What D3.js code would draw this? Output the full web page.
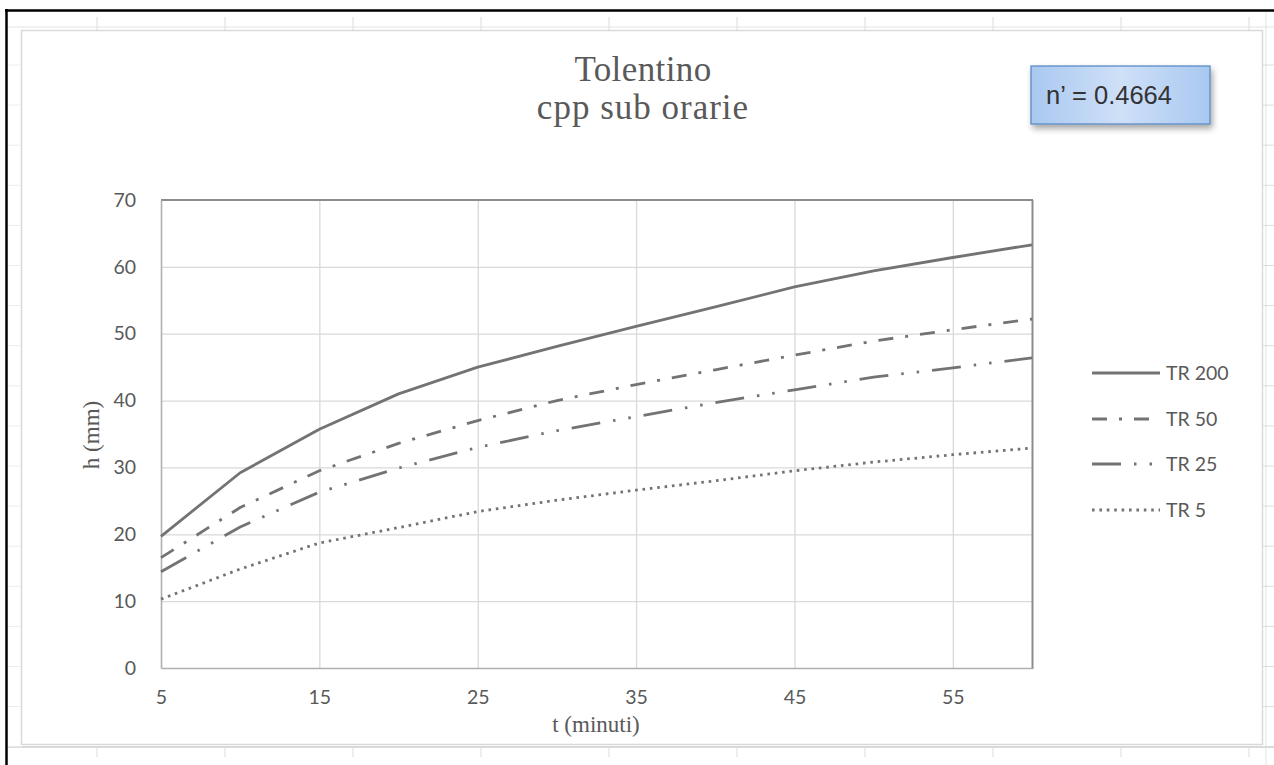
<!DOCTYPE html>
<html>
<head>
<meta charset="utf-8">
<script src="https://cdn.jsdelivr.net/npm/d3@7"></script>
<style>
  html, body { margin: 0; padding: 0; background: #ffffff; }
  svg { display: block; }
</style>
</head>
<body>
<svg id="chart" width="1274" height="765"></svg>
<script>
// Durations (minutes) and rainfall depths h (mm) for each return period
const durations = [5, 10, 15, 20, 25, 30, 35, 40, 45, 50, 55, 60];
const tr200 = [19.7, 29.2, 35.7, 41.0, 45.0, 48.1, 51.1, 54.0, 57.0, 59.4, 61.4, 63.3];
const tr50  = [16.5, 24.0, 29.5, 33.6, 37.0, 40.0, 42.4, 44.6, 46.8, 48.9, 50.6, 52.2];
const tr25  = [14.4, 21.1, 26.3, 29.9, 33.0, 35.5, 37.6, 39.7, 41.6, 43.5, 44.9, 46.4];
const tr5   = [10.3, 14.8, 18.7, 21.0, 23.4, 25.1, 26.6, 28.0, 29.5, 30.8, 31.9, 32.9];
const seriesNames = ["TR 200", "TR 50", "TR 25", "TR 5"];
const xTickLabels = [5, 15, 25, 35, 45, 55];
const yTickValues = [0, 10, 20, 30, 40, 50, 60, 70];
const titleLines = ["Tolentino", "cpp sub orarie"];
const noteText = "n\u2019 = 0.4664";

const series = [
  { name: seriesNames[0], values: tr200, dash: null },
  { name: seriesNames[1], values: tr50,  dash: "15 12 3 12" },
  { name: seriesNames[2], values: tr25,  dash: "29 13 2.5 13 2.5 13" },
  { name: seriesNames[3], values: tr5,   dash: "2.6 4.8" }
];

const svg = d3.select("#chart");
const lineColor = "#737373";
const textColor = "#595959";

// ---- spreadsheet backdrop around the chart object ----
const sheet = svg.append("g");
sheet.append("rect").attr("x", 0).attr("y", 0).attr("width", 1274).attr("height", 765).attr("fill", "#fff");
// light sheet gridlines peeking around the chart frame
sheet.append("line").attr("x1", 8).attr("x2", 1274).attr("y1", 27).attr("y2", 27).attr("stroke", "#e3e3e3").attr("stroke-width", 1);
sheet.append("line").attr("x1", 8).attr("x2", 1274).attr("y1", 747).attr("y2", 747).attr("stroke", "#d9d9d9").attr("stroke-width", 2);
sheet.append("line").attr("x1", 1266).attr("x2", 1266).attr("y1", 12).attr("y2", 765).attr("stroke", "#e3e3e3").attr("stroke-width", 1);
const colEdges = d3.range(97, 1274, 128);
sheet.selectAll("line.colTop").data(colEdges).join("line")
  .attr("x1", d => d).attr("x2", d => d).attr("y1", 17).attr("y2", 30)
  .attr("stroke", "#dcdcdc").attr("stroke-width", 1);
sheet.selectAll("line.colBot").data(colEdges).join("line")
  .attr("x1", d => d).attr("x2", d => d).attr("y1", 746).attr("y2", 757)
  .attr("stroke", "#dcdcdc").attr("stroke-width", 1);
const rowEdges = d3.range(65, 765, 40.1);
sheet.selectAll("line.rowR").data(rowEdges).join("line")
  .attr("x1", 1262).attr("x2", 1274).attr("y1", d => d).attr("y2", d => d)
  .attr("stroke", "#dcdcdc").attr("stroke-width", 1);
sheet.selectAll("line.rowL").data(rowEdges).join("line")
  .attr("x1", 8).attr("x2", 22).attr("y1", d => d).attr("y2", d => d)
  .attr("stroke", "#ececec").attr("stroke-width", 1);
// dark window frame on the top and left
sheet.append("line").attr("x1", 5).attr("x2", 1274).attr("y1", 10.5).attr("y2", 10.5).attr("stroke", "#000").attr("stroke-width", 2.5);
sheet.append("line").attr("x1", 6.5).attr("x2", 6.5).attr("y1", 9).attr("y2", 765).attr("stroke", "#000").attr("stroke-width", 2.5);

// ---- chart frame ----
svg.append("rect").attr("x", 21.5).attr("y", 30.5).attr("width", 1241).attr("height", 714)
  .attr("fill", "#fff").attr("stroke", "#d9d9d9").attr("stroke-width", 1.5);

// ---- scales ----
const plot = { left: 161, right: 1032, top: 200, bottom: 668 };
const x = d3.scalePoint().domain(durations).range([plot.left, plot.right]);
const y = d3.scaleLinear().domain([0, 70]).range([plot.bottom, plot.top]);

// ---- gridlines ----
const grid = svg.append("g");
grid.selectAll("line.h").data(yTickValues.filter(v => v > 0 && v < 70)).join("line")
  .attr("x1", plot.left).attr("x2", plot.right)
  .attr("y1", d => y(d) + 0.5).attr("y2", d => y(d) + 0.5)
  .attr("stroke", "#d9d9d9").attr("stroke-width", 1.3);
grid.selectAll("line.v").data(xTickLabels.filter(v => v > 5)).join("line")
  .attr("x1", d => x(d) + 0.5).attr("x2", d => x(d) + 0.5)
  .attr("y1", plot.top).attr("y2", plot.bottom)
  .attr("stroke", "#d9d9d9").attr("stroke-width", 1.3);

// plot area border
svg.append("line").attr("x1", plot.left).attr("x2", plot.right + 1).attr("y1", plot.top).attr("y2", plot.top)
  .attr("stroke", "#8c8c8c").attr("stroke-width", 2);
svg.append("line").attr("x1", plot.right + 0.5).attr("x2", plot.right + 0.5).attr("y1", plot.top).attr("y2", plot.bottom + 1)
  .attr("stroke", "#8c8c8c").attr("stroke-width", 2);

// ---- axes ----
const tickFont = "Lato, 'Open Sans', sans-serif";
const yAxis = d3.axisLeft(y).tickValues(yTickValues).tickSize(0).tickPadding(25);
const yG = svg.append("g").attr("transform", `translate(${plot.left},0)`).call(yAxis);
yG.select(".domain").attr("stroke", "#b0b0b0").attr("stroke-width", 1.6);
yG.selectAll("text").attr("font-family", tickFont).attr("font-size", 19.5)
  .attr("fill", textColor);

const xAxis = d3.axisBottom(x).tickValues(xTickLabels).tickSize(0).tickPadding(22);
const xG = svg.append("g").attr("transform", `translate(0,${plot.bottom})`).call(xAxis);
xG.select(".domain").attr("stroke", "#b0b0b0").attr("stroke-width", 1.6);
xG.selectAll("text").attr("font-family", tickFont).attr("font-size", 19.5)
  .attr("fill", textColor);

// ---- series lines ----
const line = d3.line().x((d, i) => x(durations[i])).y(d => y(d));
svg.append("g").selectAll("path").data(series).join("path")
  .attr("d", d => line(d.values))
  .attr("fill", "none")
  .attr("stroke", lineColor)
  .attr("stroke-width", 2.8)
  .attr("stroke-linejoin", "round")
  .attr("stroke-dasharray", d => d.dash);

// ---- legend ----
const legend = svg.append("g");
const legendY = [373, 419, 464, 510];
series.forEach((s, i) => {
  legend.append("line")
    .attr("x1", 1092).attr("x2", 1160).attr("y1", legendY[i]).attr("y2", legendY[i])
    .attr("stroke", lineColor).attr("stroke-width", 2.8)
    .attr("stroke-dasharray", s.dash);
  legend.append("text")
    .attr("x", 1166).attr("y", legendY[i]).attr("dy", "0.35em")
    .attr("font-family", tickFont).attr("font-size", 19.5)
    .attr("fill", textColor).text(s.name);
});

// ---- titles ----
svg.append("g").selectAll("text").data(titleLines).join("text")
  .attr("x", 643).attr("y", (d, i) => 81 + i * 38)
  .attr("text-anchor", "middle")
  .attr("font-family", "'Liberation Serif', 'Times New Roman', serif")
  .attr("font-size", 35).attr("fill", textColor)
  .attr("letter-spacing", (d, i) => i === 1 ? 1 : 0.4)
  .text(d => d);

svg.append("text")
  .attr("transform", "translate(99,435) rotate(-90)")
  .attr("text-anchor", "middle")
  .attr("font-family", "'Liberation Serif', 'Times New Roman', serif")
  .attr("font-size", 23).attr("fill", textColor)
  .text("h (mm)");

svg.append("text")
  .attr("x", 596).attr("y", 732)
  .attr("text-anchor", "middle")
  .attr("font-family", "'Liberation Serif', 'Times New Roman', serif")
  .attr("font-size", 23).attr("fill", textColor)
  .text("t (minuti)");

// ---- annotation box ----
const defs = svg.append("defs");
const grad = defs.append("linearGradient").attr("id", "boxFill")
  .attr("x1", "0%").attr("y1", "0%").attr("x2", "100%").attr("y2", "0%");
grad.append("stop").attr("offset", "0%").attr("stop-color", "#a9c8f0");
grad.append("stop").attr("offset", "50%").attr("stop-color", "#cfe0f8");
grad.append("stop").attr("offset", "100%").attr("stop-color", "#a9c8f0");
const shadow = defs.append("filter").attr("id", "boxShadow")
  .attr("x", "-10%").attr("y", "-20%").attr("width", "130%").attr("height", "160%");
shadow.append("feDropShadow").attr("dx", 2).attr("dy", 4).attr("stdDeviation", 3)
  .attr("flood-color", "#000").attr("flood-opacity", 0.35);

svg.append("rect")
  .attr("x", 1031).attr("y", 66).attr("width", 179).attr("height", 58)
  .attr("fill", "url(#boxFill)").attr("stroke", "#5b8bc7").attr("stroke-width", 1.3)
  .attr("filter", "url(#boxShadow)");
svg.append("text")
  .attr("x", 1046).attr("y", 95).attr("dy", "0.36em")
  .attr("font-family", "'Liberation Sans', Arial, sans-serif")
  .attr("font-size", 25.5).attr("fill", "#333")
  .text(noteText);
</script>
</body>
</html>
